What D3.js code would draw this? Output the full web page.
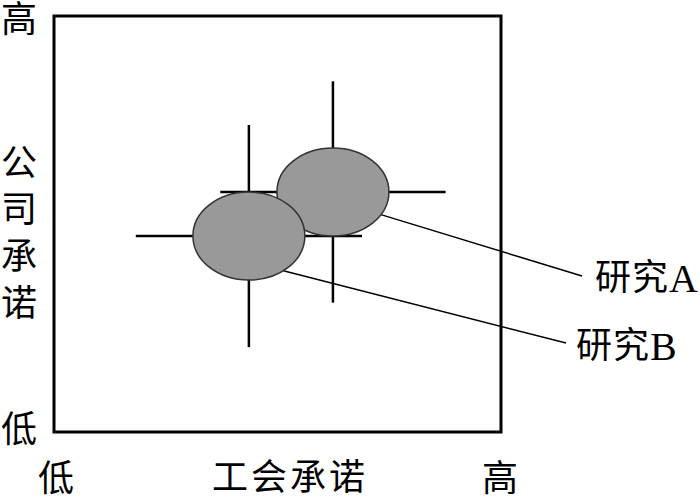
<!DOCTYPE html>
<html>
<head>
<meta charset="utf-8">
<script src="https://cdn.jsdelivr.net/npm/d3@7"></script>
<style>
  body { margin: 0; background: #fff; }
  text { font-family: "Liberation Serif", "Noto Sans CJK SC", serif; fill: #000; }
</style>
</head>
<body>
<div id="chart"></div>
<script>
const studies = ["研究A", "研究B"];
const unionValues = [6.24, 4.36];     // 工会承诺
const companyValues = [5.77, 4.71];   // 公司承诺
const unionErr = [2.52, 2.53];
const companyErr = [2.66, 2.67];
const xTickLabels = ["低", "高"];
const yTickLabels = ["低", "高"];
const xTitle = "工会承诺";
const yTitle = "公司承诺";

const width = 700;
const height = 498;
const box = { left: 54, top: 16, right: 501, bottom: 432 };
const ellRx = 56, ellRy = 44;
// where each leader line leaves the ellipse (angle, degrees) and where its label sits
const leaders = [
    { angle: 31, x2: 582, y2: 276, tx: 595, ty: 278 },
    { angle: 52, x2: 566, y2: 343, tx: 576, ty: 346 }
];

const x = d3.scaleLinear().domain([0, 10]).range([box.left, box.right]);
const y = d3.scaleLinear().domain([0, 10]).range([box.bottom, box.top]);

const svg = d3.select("#chart")
    .append("svg")
    .attr("width", width)
    .attr("height", height);

const data = studies.map((s, i) => ({
    name: s,
    x: unionValues[i],
    y: companyValues[i],
    xe: unionErr[i],
    ye: companyErr[i],
    leader: leaders[i]
}));

// plot frame
svg.append("rect")
    .attr("x", x(0))
    .attr("y", y(10))
    .attr("width", x(10) - x(0))
    .attr("height", y(0) - y(10))
    .attr("fill", "none")
    .attr("stroke", "#000")
    .attr("stroke-width", 3);

// error crosses
const cross = svg.selectAll(".cross")
    .data(data)
    .enter().append("g")
    .attr("class", "cross")
    .attr("stroke", "#000")
    .attr("stroke-width", 2.5);

cross.append("line")
    .attr("x1", d => x(d.x - d.xe))
    .attr("x2", d => x(d.x + d.xe))
    .attr("y1", d => y(d.y))
    .attr("y2", d => y(d.y));

cross.append("line")
    .attr("x1", d => x(d.x))
    .attr("x2", d => x(d.x))
    .attr("y1", d => y(d.y - d.ye))
    .attr("y2", d => y(d.y + d.ye));

// leader lines
svg.selectAll(".leader")
    .data(data)
    .enter().append("line")
    .attr("class", "leader")
    .attr("x1", d => x(d.x) + ellRx * Math.cos(d.leader.angle * Math.PI / 180))
    .attr("y1", d => y(d.y) + ellRy * Math.sin(d.leader.angle * Math.PI / 180))
    .attr("x2", d => d.leader.x2)
    .attr("y2", d => d.leader.y2)
    .attr("stroke", "#000")
    .attr("stroke-width", 1.5);

// ellipses
svg.selectAll(".study")
    .data(data)
    .enter().append("ellipse")
    .attr("class", "study")
    .attr("cx", d => x(d.x))
    .attr("cy", d => y(d.y))
    .attr("rx", ellRx)
    .attr("ry", ellRy)
    .attr("fill", "#999999")
    .attr("stroke", "#333")
    .attr("stroke-width", 1.5);

// study labels (latin letter a bit larger, like the serif original)
const labels = svg.selectAll(".study-label")
    .data(data)
    .enter().append("text")
    .attr("class", "study-label")
    .attr("x", d => d.leader.tx)
    .attr("y", d => d.leader.ty)
    .attr("dominant-baseline", "central")
    .style("font-size", "36px")
    .style("letter-spacing", "1px");

labels.append("tspan")
    .text(d => d.name.slice(0, -1));

labels.append("tspan")
    .style("font-size", "40px")
    .text(d => d.name.slice(-1));

// x axis end labels
svg.selectAll(".xtick")
    .data(xTickLabels)
    .enter().append("text")
    .attr("class", "xtick")
    .attr("x", (d, i) => x(i * 10) + (i === 0 ? 2 : -1))
    .attr("y", 479)
    .attr("text-anchor", "middle")
    .attr("dominant-baseline", "central")
    .style("font-size", "36px")
    .text(d => d);

svg.append("text")
    .attr("x", 290)
    .attr("y", 478)
    .attr("text-anchor", "middle")
    .attr("dominant-baseline", "central")
    .style("font-size", "36px")
    .style("letter-spacing", "3px")
    .text(xTitle);

// y axis end labels
svg.selectAll(".ytick")
    .data(yTickLabels)
    .enter().append("text")
    .attr("class", "ytick")
    .attr("x", 19)
    .attr("y", (d, i) => y(i * 10) + (i === 0 ? -2 : 3.5))
    .attr("text-anchor", "middle")
    .attr("dominant-baseline", "central")
    .style("font-size", "36px")
    .text(d => d);

// vertical y title
svg.selectAll(".ytitle")
    .data(yTitle.split(""))
    .enter().append("text")
    .attr("class", "ytitle")
    .attr("x", 19)
    .attr("y", (d, i) => 163.5 + i * 46.7)
    .attr("text-anchor", "middle")
    .attr("dominant-baseline", "central")
    .style("font-size", "36px")
    .text(d => d);
</script>
</body>
</html>
